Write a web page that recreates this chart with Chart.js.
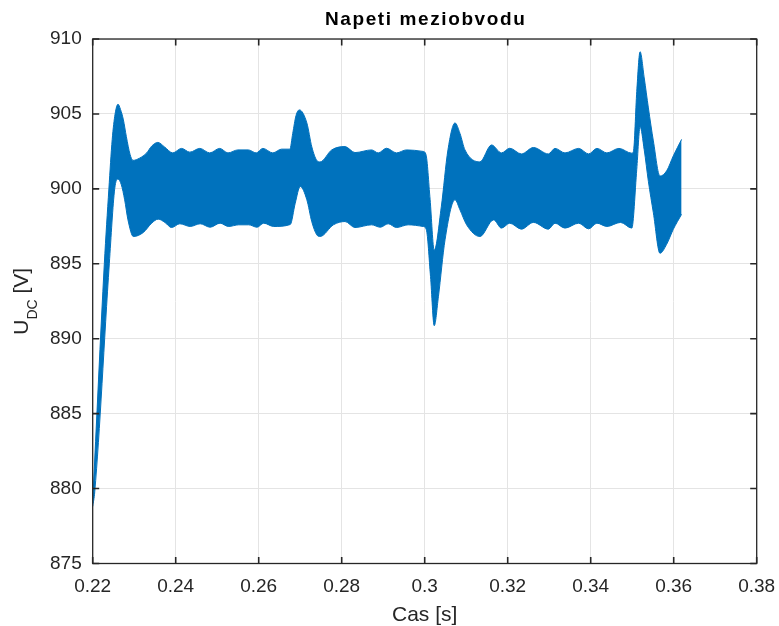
<!DOCTYPE html>
<html>
<head>
<meta charset="utf-8">
<script src="https://cdn.jsdelivr.net/npm/chart.js@4/dist/chart.umd.min.js"></script>
<style>
  html, body { margin: 0; padding: 0; background: #fff; }
</style>
</head>
<body>
<canvas id="chart-udc" width="779" height="626"></canvas>
<script>
// envelope of the DC-link voltage ripple
const upperT = [0.2200, 0.2228, 0.2239, 0.2247, 0.2254, 0.2261, 0.2267, 0.2274, 0.2281,
  0.2290, 0.2297, 0.2313, 0.2330, 0.2342, 0.2357, 0.2373, 0.2393, 0.2414, 0.2434,
  0.2458, 0.2482, 0.2506, 0.2526, 0.2550, 0.2575, 0.2594, 0.2610, 0.2634, 0.2655,
  0.2675, 0.2682, 0.2690, 0.2698, 0.2716, 0.2728, 0.2740, 0.2748, 0.2776, 0.2808,
  0.2832, 0.2872, 0.2888, 0.2908, 0.2932, 0.2956, 0.2996, 0.3003, 0.3013, 0.3023,
  0.3040, 0.3056, 0.3073, 0.3085, 0.3097, 0.3133, 0.3161, 0.3185, 0.3205, 0.3233,
  0.3262, 0.3298, 0.3314, 0.3338, 0.3371, 0.3395, 0.3415, 0.3439, 0.3468, 0.3499,
  0.3503, 0.3511, 0.3519, 0.3529, 0.3539, 0.3551, 0.3567, 0.3583, 0.3599, 0.3619]
const upperV = [879.1, 895.0, 900.0, 903.3, 905.0, 905.65, 905.3, 904.6, 903.5,
  902.3, 901.9, 902.05, 902.4, 902.85, 903.1, 902.8, 902.4, 902.7, 902.45,
  902.7, 902.4, 902.7, 902.4, 902.6, 902.6, 902.4, 902.7, 902.4, 902.65,
  902.65, 903.7, 904.9, 905.27, 904.4, 902.8, 901.9, 901.8, 902.6, 902.82,
  902.42, 902.6, 902.4, 902.71, 902.4, 902.6, 902.5, 902.3, 899.3, 895.9,
  898.8, 902.6, 904.4, 903.7, 902.6, 901.8, 902.93, 902.4, 902.71, 902.33,
  902.76, 902.33, 902.7, 902.4, 902.7, 902.33, 902.7, 902.4, 902.7, 902.38,
  902.5, 906.5, 909.15, 907.4, 905.4, 903.2, 900.85, 901.2, 902.2, 903.3]

const lowerT = [0.2200, 0.2205, 0.2240, 0.2253, 0.2261, 0.2269, 0.2277, 0.2285, 0.2298, 0.2322,
  0.2342, 0.2358, 0.2374, 0.2390, 0.2410, 0.2435, 0.2459, 0.2483, 0.2507, 0.2527,
  0.2552, 0.2576, 0.2596, 0.2612, 0.2636, 0.2676, 0.2688, 0.2700, 0.2716, 0.2728,
  0.2740, 0.2748, 0.2780, 0.2808, 0.2832, 0.2872, 0.2893, 0.2912, 0.2932, 0.2960,
  0.2996, 0.3004, 0.3014, 0.3023, 0.3033, 0.3049, 0.3073, 0.3085, 0.3101, 0.3133,
  0.3166, 0.3185, 0.3205, 0.3233, 0.3262, 0.3298, 0.3314, 0.3338, 0.3371, 0.3395,
  0.3415, 0.3439, 0.3472, 0.3499, 0.3511, 0.3519, 0.3529, 0.3539, 0.3551, 0.3567,
  0.3583, 0.3599, 0.3619]
const lowerV = [878.8, 879.8, 895.0, 900.0, 900.65, 900.27, 899.27, 897.93, 896.82, 897.09,
  897.71, 897.98, 897.76, 897.42, 897.67, 897.49, 897.67, 897.44, 897.71, 897.49,
  897.6, 897.6, 897.44, 897.71, 897.49, 897.62, 899.04, 900.16, 899.27, 897.8,
  896.93, 896.82, 897.6, 897.82, 897.42, 897.6, 897.44, 897.67, 897.42, 897.6,
  897.49, 897.27, 894.16, 890.87, 892.8, 896.6, 899.27, 898.6, 897.6, 896.82,
  897.93, 897.38, 897.71, 897.31, 897.76, 897.31, 897.71, 897.38, 897.71, 897.33,
  897.71, 897.49, 897.76, 897.38, 901.3, 904.15, 902.6, 900.5, 898.4, 895.7,
  896.3, 897.3, 898.3]

const xTicks = [0.22, 0.24, 0.26, 0.28, 0.3, 0.32, 0.34, 0.36, 0.38]
const yTicks = [875, 880, 885, 890, 895, 900, 905, 910]

const titleText = "Napeti meziobvodu"
const xLabel = "Cas [s]"
const yLabel = ["U", "DC", " [V]"]

const BLUE = "#0072BD"
const AXIS = "#262626"
const FONT = '"Liberation Sans", Arial, sans-serif'

const toPoints = (ts, vs) => ts.map((t, i) => ({x: t, y: vs[i]}))

// MATLAB look: box, inward ticks, title and axis labels (subscript in U_DC)
const matlabAxes = {
  id: "matlabAxes",
  afterDraw(chart) {
    const {ctx, chartArea: a} = chart
    const x = chart.scales.x, y = chart.scales.y
    ctx.save()

    ctx.strokeStyle = AXIS
    ctx.lineWidth = 1.3
    ctx.strokeRect(a.left, a.top, a.right - a.left, a.bottom - a.top)

    ctx.lineWidth = 1.6
    ctx.beginPath()
    xTicks.forEach(v => {
      const px = x.getPixelForValue(v)
      ctx.moveTo(px, a.bottom); ctx.lineTo(px, a.bottom - 6.5)
      ctx.moveTo(px, a.top); ctx.lineTo(px, a.top + 6.5)
    })
    yTicks.forEach(v => {
      const py = y.getPixelForValue(v)
      ctx.moveTo(a.left, py); ctx.lineTo(a.left + 6.5, py)
      ctx.moveTo(a.right, py); ctx.lineTo(a.right - 6.5, py)
    })
    ctx.stroke()

    const cx = (a.left + a.right) / 2
    ctx.fillStyle = "#000"
    ctx.font = "bold 19px " + FONT
    ctx.letterSpacing = "1.6px"
    ctx.textAlign = "center"
    ctx.textBaseline = "middle"
    ctx.fillText(titleText, cx + 1, 20)
    ctx.letterSpacing = "0px"

    ctx.fillStyle = AXIS
    ctx.font = "21px " + FONT
    ctx.textBaseline = "alphabetic"
    ctx.fillText(xLabel, cx, 621)

    // rotated y label with subscript
    ctx.translate(28, (a.top + a.bottom) / 2)
    ctx.rotate(-Math.PI / 2)
    ctx.textAlign = "left"
    ctx.font = "21px " + FONT
    const w1 = ctx.measureText(yLabel[0]).width
    const w3 = ctx.measureText(yLabel[2]).width
    ctx.font = "14px " + FONT
    const w2 = ctx.measureText(yLabel[1]).width
    let x0 = -(w1 + w2 + w3) / 2
    ctx.font = "21px " + FONT
    ctx.fillText(yLabel[0], x0, 0)
    ctx.font = "14px " + FONT
    ctx.fillText(yLabel[1], x0 + w1, 9)
    ctx.font = "21px " + FONT
    ctx.fillText(yLabel[2], x0 + w1 + w2, 0)

    ctx.restore()
  }
}

new Chart("chart-udc", {
  type: "line",
  data: {
    datasets: [{
      label: "lower",
      data: toPoints(lowerT, lowerV),
      borderColor: BLUE,
      borderWidth: 1,
      pointRadius: 0,
      cubicInterpolationMode: "monotone",
      fill: false
    }, {
      label: "upper",
      data: toPoints(upperT, upperV),
      borderColor: BLUE,
      backgroundColor: BLUE,
      borderWidth: 1,
      pointRadius: 0,
      cubicInterpolationMode: "monotone",
      fill: "-1"
    }]
  },
  options: {
    responsive: false,
    animation: false,
    devicePixelRatio: 1,
    layout: {padding: {top: 39, right: 22.3, bottom: 0, left: 0}},
    plugins: {
      legend: {display: false},
      title: {display: false},
      tooltip: {enabled: false}
    },
    scales: {
      x: {
        type: "linear",
        min: 0.22,
        max: 0.38,
        afterBuildTicks: s => { s.ticks = xTicks.map(v => ({value: v})) },
        afterFit: s => { s.height = 62.5; s.paddingLeft = 0; s.paddingRight = 0 },
        grid: {color: "#e4e4e4", drawTicks: false},
        border: {display: false},
        ticks: {
          padding: 12,
          color: AXIS,
          font: {family: FONT, size: 19},
          maxRotation: 0,
          callback: v => String(+v.toFixed(2))
        }
      },
      y: {
        type: "linear",
        min: 875,
        max: 910,
        afterBuildTicks: s => { s.ticks = yTicks.map(v => ({value: v})) },
        afterFit: s => { s.width = 92.7; s.paddingTop = 0; s.paddingBottom = 0 },
        grid: {color: "#e4e4e4", drawTicks: false},
        border: {display: false},
        ticks: {
          padding: 11,
          color: AXIS,
          font: {family: FONT, size: 19}
        }
      }
    }
  },
  plugins: [matlabAxes]
})
</script>
</body>
</html>
